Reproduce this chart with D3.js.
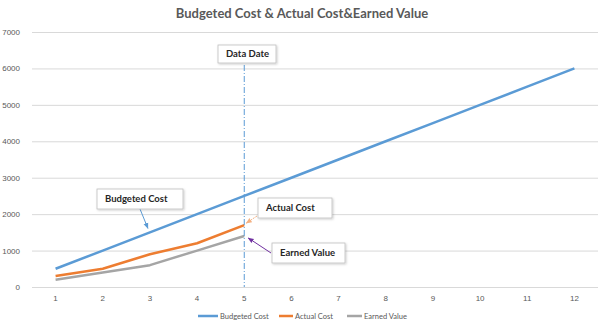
<!DOCTYPE html>
<html>
<head>
<meta charset="utf-8">
<script src="https://cdn.jsdelivr.net/npm/d3@7"></script>
<style>
  body { margin: 0; background: #fff; }
  svg { font-family: "Lato", "Open Sans", sans-serif; }
  .grid line { stroke: #d9d9d9; stroke-width: 1; }
  .tick text { fill: #595959; font-size: 8px; }
</style>
</head>
<body>
<svg id="chart" width="604" height="324"></svg>
<script>
const periods = [1, 2, 3, 4, 5, 6, 7, 8, 9, 10, 11, 12];
const budgeted = [500, 1000, 1500, 2000, 2500, 3000, 3500, 4000, 4500, 5000, 5500, 6000];
const actual = [300, 500, 900, 1200, 1700];
const earned = [200, 400, 600, 1000, 1400];
const yTicks = [0, 1000, 2000, 3000, 4000, 5000, 6000, 7000];
const dataDate = 5;

const seriesNames = ["Budgeted Cost", "Actual Cost", "Earned Value"];
const colors = ["#5b9bd5", "#ed7d31", "#a5a5a5"];

const margin = {top: 32, right: 6, bottom: 37, left: 32};
const width = 604 - margin.left - margin.right;
const height = 324 - margin.top - margin.bottom;

const svg = d3.select("#chart");

svg.append("text")
    .attr("x", 302)
    .attr("y", 18)
    .attr("text-anchor", "middle")
    .attr("font-size", 13)
    .attr("font-weight", "bold")
    .attr("fill", "#595959")
    .text("Budgeted Cost & Actual Cost&Earned Value");

const chart = svg.append("g")
    .attr("transform", `translate(${ margin.left },${ margin.top })`);

const x = d3.scaleBand()
    .domain(periods)
    .range([0, width]);

const y = d3.scaleLinear()
    .domain([0, 7000])
    .range([height, 0]);

const cx = (d) => x(d) + x.bandwidth() / 2;

// gridlines + y labels
chart.append("g")
    .attr("class", "grid")
    .call(d3.axisLeft(y).tickValues(yTicks).tickFormat(d3.format("d")).tickSize(-width))
    .call(g => g.select(".domain").remove())
    .call(g => g.selectAll(".tick text").attr("x", -12).attr("dy", "0.32em"));

chart.append("g")
    .attr("transform", `translate(0,${ height })`)
    .call(d3.axisBottom(x).tickSize(0).tickPadding(8))
    .call(g => g.select(".domain").remove());

// lines
const line = d3.line()
    .x((d, i) => cx(periods[i]))
    .y(d => y(d));

[budgeted, actual, earned].forEach((s, i) => {
  chart.append("path")
      .datum(s)
      .attr("fill", "none")
      .attr("stroke", colors[i])
      .attr("stroke-width", 2.5)
      .attr("stroke-linejoin", "round")
      .attr("d", line);
});

// data date line
chart.append("line")
    .attr("x1", cx(dataDate))
    .attr("x2", cx(dataDate))
    .attr("y1", 33)
    .attr("y2", height)
    .attr("stroke", "#5b9bd5")
    .attr("stroke-width", 1)
    .attr("stroke-dasharray", "6,2,1,2");

// arrow markers
const defs = svg.append("defs");
const markerColors = {blue: "#5b9bd5", orange: "#f4b183", purple: "#7030a0"};
Object.entries(markerColors).forEach(([k, c]) => {
  defs.append("marker")
      .attr("id", `arrow-${ k }`)
      .attr("viewBox", "0 0 10 10")
      .attr("refX", 9).attr("refY", 5)
      .attr("markerWidth", 6).attr("markerHeight", 6)
      .attr("orient", "auto")
    .append("path")
      .attr("d", "M0,1L10,5L0,9z")
      .attr("fill", c);
});

const shadow = defs.append("filter").attr("id", "shadow")
    .attr("x", "-10%").attr("y", "-10%").attr("width", "130%").attr("height", "150%");
shadow.append("feDropShadow")
    .attr("dx", 1).attr("dy", 1).attr("stdDeviation", 0.8)
    .attr("flood-color", "#000").attr("flood-opacity", 0.2);

// callouts: box, arrow start, arrow target
const callouts = [
  {text: "Data Date", box: [218, 45, 58, 18]},
  {text: "Budgeted Cost", box: [97, 189, 86, 20], from: [140, 209], to: [cx(3) - 2, y(1500) - 4], marker: "blue", dash: null},
  {text: "Actual Cost", box: [258, 198, 74, 20], from: [257, 216], to: [cx(dataDate) + 2, y(1700) - 2], marker: "orange", dash: "2,1"},
  {text: "Earned Value", box: [272, 243, 73, 20], from: [271, 253], to: [cx(dataDate) + 4, y(1400) + 2], marker: "purple", dash: null}
];

callouts.forEach(c => {
  if (c.from) {
    svg.append("line")
        .attr("x1", c.from[0]).attr("y1", c.from[1])
        .attr("x2", c.to[0] + margin.left).attr("y2", c.to[1] + margin.top)
        .attr("stroke", markerColors[c.marker])
        .attr("stroke-width", 1)
        .attr("stroke-dasharray", c.dash)
        .attr("marker-end", `url(#arrow-${ c.marker })`);
  }
  svg.append("rect")
      .attr("x", c.box[0]).attr("y", c.box[1])
      .attr("width", c.box[2]).attr("height", c.box[3])
      .attr("fill", "#fff")
      .attr("stroke", "#bfbfbf")
      .attr("stroke-width", 0.8)
      .attr("filter", "url(#shadow)");
  svg.append("text")
      .attr("x", c.box[0] + 8)
      .attr("y", c.box[1] + c.box[3] / 2)
      .attr("dy", "0.35em")
      .attr("font-size", 9.5)
      .attr("font-weight", "bold")
      .attr("fill", "#262626")
      .text(c.text);
});

// legend
const legendX = [198, 279, 347];
const legendW = [20, 14, 15];
const legend = svg.append("g").attr("transform", "translate(0,316)");
seriesNames.forEach((n, i) => {
  legend.append("line")
      .attr("x1", legendX[i]).attr("x2", legendX[i] + legendW[i])
      .attr("stroke", colors[i])
      .attr("stroke-width", 2.5);
  legend.append("text")
      .attr("x", legendX[i] + legendW[i] + 2)
      .attr("dy", "0.35em")
      .attr("font-size", 7.5)
      .attr("fill", "#595959")
      .text(n);
});
</script>
</body>
</html>
